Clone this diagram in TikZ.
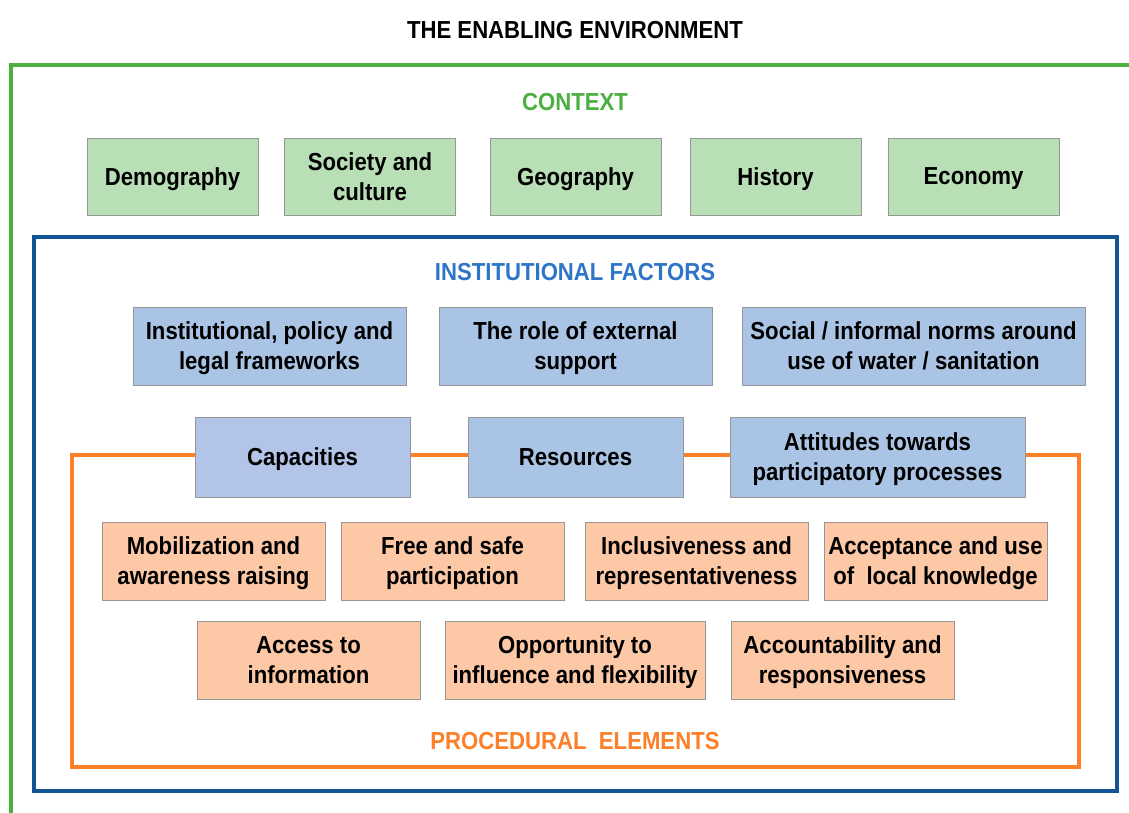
\documentclass[tikz,border=0pt]{standalone}
\usepackage{fontspec}
\setmainfont{Liberation Sans}[FakeStretch=0.9]
\usepackage{xcolor}
\usepackage{tikz}
\usetikzlibrary{positioning,calc}

\definecolor{ctxgreen}{RGB}{76,176,64}
\definecolor{ctxfill}{RGB}{185,223,183}
\definecolor{instblue}{RGB}{17,84,150}
\definecolor{instlabel}{RGB}{46,117,200}
\definecolor{instfill}{RGB}{169,196,228}
\definecolor{capfill}{RGB}{178,197,232}
\definecolor{procorange}{RGB}{253,127,40}
\definecolor{procfill}{RGB}{252,200,166}
\definecolor{boxline}{RGB}{150,150,150}

\tikzset{
    box/.style 2 args={draw=boxline, line width=0.6pt, align=center, inner sep=1pt,
        text depth=0pt, font=\bfseries\fontsize{17.5}{21.3}\selectfont,
        minimum width=#1*0.025cm, minimum height=#2*0.025cm},
    ctxbox/.style={box={171}{77}, fill=ctxfill},
    instbox/.style={box={#1}{78}, fill=instfill},
    capbox/.style={box={#1}{80}, fill=instfill},
    procbox/.style={box={#1}{78}, fill=procfill},
    heading/.style={font=\bfseries\fontsize{17.5}{21.3}\selectfont, text depth=0pt}
}

\begin{document}
\begin{tikzpicture}[x=0.025cm, y=-0.025cm]
    \clip (0,0) rectangle (1129,812);
    \fill[white] (0,0) rectangle (1129,812);

    % Frames
    \draw[ctxgreen, line width=2.8pt] (11,830) -- (11,65) -- (1150,65);
    \draw[instblue, line width=3.5pt] (34,237) rectangle (1117,791);
    \draw[procorange, line width=2.8pt] (72,455) rectangle (1079,767);

    % Headings
    \node[heading] (title) at (575,30) {THE ENABLING ENVIRONMENT};
    \node[heading, text=ctxgreen] (ctxlabel) at (575,102) {CONTEXT};
    \node[heading, text=instlabel] (instlabel) at (575,272) {INSTITUTIONAL FACTORS};
    \node[heading, text=procorange] (proclabel) at (575,741) {PROCEDURAL~ ELEMENTS};

    % Context
    \node[ctxbox] (demo) at (172.5,176.5) {Demography};
    \node[ctxbox] (soc) at (370,176.5) {Society and\\culture};
    \node[ctxbox] (geo) at (575.5,176.5) {Geography};
    \node[ctxbox] (hist) at (775.5,176.5) {History};
    \node[ctxbox] (econ) at (973.5,176.5) {Economy};

    % Institutional factors
    \node[instbox=273] (frame) at (269.5,346) {Institutional, policy and\\legal frameworks};
    \node[instbox=273] (extern) at (575.5,346) {The role of external\\support};
    \node[instbox=343] (norms) at (913.5,346) {Social / informal norms around\\use of water / sanitation};
    \node[capbox=215, fill=capfill] (cap) at (302.5,457) {Capacities};
    \node[capbox=215] (res) at (575.5,457) {Resources};
    \node[capbox=295] (att) at (877.5,457) {Attitudes towards\\participatory processes};

    % Procedural elements
    \node[procbox=223] (mob) at (213.5,561) {Mobilization and\\awareness raising};
    \node[procbox=223] (free) at (452.5,561) {Free and safe\\participation};
    \node[procbox=223] (incl) at (696.5,561) {Inclusiveness and\\representativeness};
    \node[procbox=223] (know) at (935.5,561) {Acceptance and use\\of~ local knowledge};
    \node[procbox=223] (info) at (308.5,660) {Access to\\information};
    \node[procbox=260] (opp) at (575,660) {Opportunity to\\influence and flexibility};
    \node[procbox=223] (acct) at (842.5,660) {Accountability and\\responsiveness};
\end{tikzpicture}
\end{document}
